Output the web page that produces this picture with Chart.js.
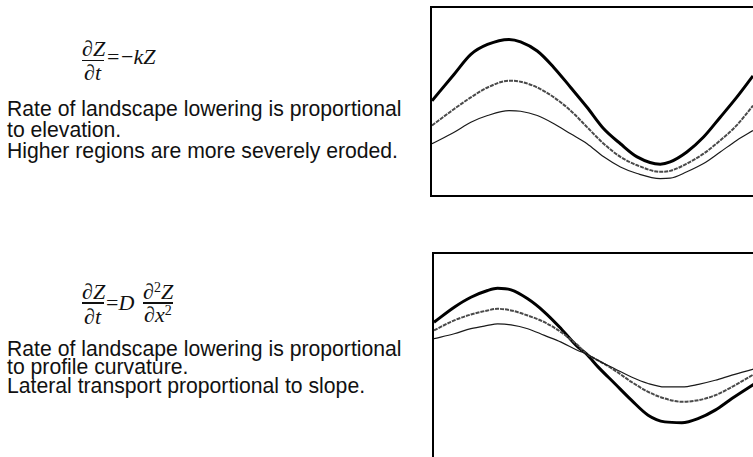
<!DOCTYPE html>
<html>
<head>
<meta charset="utf-8">
<script src="https://cdn.jsdelivr.net/npm/chart.js@4"></script>
<style>
  html, body { margin: 0; padding: 0; background: #fff; width: 753px; height: 457px; overflow: hidden; }
  #page { position: relative; width: 753px; height: 457px; overflow: hidden; }
  .txt { position: absolute; font-family: "Liberation Sans", Arial, sans-serif; font-size: 21.2px; color: #111; white-space: nowrap; }
  .m { position: absolute; font-family: "Liberation Serif", "Times New Roman", serif; font-size: 22px; color: #111; white-space: nowrap; line-height: 1; }
  .i { font-style: italic; }
  .sup { font-size: 14px; vertical-align: 7px; }
  .bar { position: absolute; height: 1.5px; background: #111; }
  .box { position: absolute; border-left: 2px solid #000; border-top: 2px solid #000; }
  .box canvas { display: block; }
</style>
</head>
<body>
<div id="page">
  <!-- Panel 1 equation: dZ/dt = -kZ -->
  <div class="m" style="left:82px; top:38px;">∂<span class="i">Z</span></div>
  <div class="bar" style="left:82px; top:59.5px; width:22px;"></div>
  <div class="m" style="left:84px; top:61.5px;">∂<span class="i">t</span></div>
  <div class="m" style="left:107px; top:45.5px;">=</div>
  <div class="m" style="left:121px; top:45.5px;">−<span class="i">kZ</span></div>
  <div class="txt" style="left:7px; top:97.5px; line-height:21px;">Rate of landscape lowering is proportional<br>to elevation.<br>Higher regions are more severely eroded.</div>

  <!-- Panel 2 equation: dZ/dt = D d2Z/dx2 -->
  <div class="m" style="left:82px; top:281px;">∂<span class="i">Z</span></div>
  <div class="bar" style="left:82px; top:302px; width:22px;"></div>
  <div class="m" style="left:84px; top:305.5px;">∂<span class="i">t</span></div>
  <div class="m" style="left:106px; top:291.5px;">=<span class="i">D</span></div>
  <div class="m" style="left:143px; top:281px;">∂<span class="sup">2</span><span class="i">Z</span></div>
  <div class="bar" style="left:143px; top:302px; width:30px;"></div>
  <div class="m" style="left:144px; top:304px;">∂<span class="i">x</span><span class="sup">2</span></div>
  <div class="txt" style="left:7px; top:339.5px; line-height:18.7px;">Rate of landscape lowering is proportional<br>to profile curvature.<br>Lateral transport proportional to slope.</div>

  <div class="box" style="left:430px; top:6px; width:323px; height:187px; border-bottom:2px solid #000;">
    <canvas id="c1" width="321" height="187"></canvas>
  </div>
  <div class="box" style="left:432px; top:252px; width:321px; height:210px;">
    <canvas id="c2" width="321" height="203"></canvas>
  </div>
</div>
<script>
// ---- Panel 1: dZ/dt = -kZ (distance along profile, elevation) ----
const distance1 = [0, 6.9, 12.1, 17.3, 24.0, 27.6, 32.8, 38.0, 43.2, 48.3, 53.5, 58.7, 63.9, 71.1, 74.2, 79.4, 84.6, 89.8, 94.9, 100];
const initial1  = [50.4, 64.6, 75.2, 80.5, 83.2, 81.9, 77.0, 68.1, 57.5, 46.9, 35.4, 27.4, 20.4, 16.5, 17.7, 23.0, 31.0, 41.6, 52.2, 63.7];
const middle1   = [37.2, 46.0, 52.2, 57.5, 61.1, 60.6, 57.5, 52.2, 45.1, 36.3, 27.4, 20.4, 15.9, 12.4, 12.9, 16.8, 22.1, 29.2, 37.2, 47.8];
const later1    = [27.4, 33.6, 38.9, 42.5, 45.1, 44.8, 42.5, 38.1, 32.7, 27.4, 20.4, 15.0, 11.5, 8.8, 9.0, 12.4, 16.8, 23.0, 29.2, 34.5];

// ---- Panel 2: dZ/dt = D d2Z/dx2 ----
const distance2 = [0, 6.3, 11.5, 16.7, 19.8, 24.0, 29.2, 34.4, 39.6, 44.8, 47.4, 51.1, 56.3, 61.5, 66.7, 71.9, 77.2, 82.4, 87.6, 92.8, 100];
const initial2  = [66.4, 73.8, 78.7, 82.0, 83.1, 82.3, 77.9, 71.4, 63.2, 54.2, 50.9, 44.4, 36.2, 28.0, 20.6, 17.3, 16.9, 19.0, 23.1, 28.8, 36.2];
const middle2   = [62.4, 67.3, 70.2, 72.2, 73.0, 72.2, 69.7, 66.4, 61.5, 55.0, 50.9, 47.6, 42.7, 37.0, 32.1, 28.8, 27.2, 28.0, 30.4, 34.5, 41.1];
const later2    = [58.3, 60.7, 63.2, 64.8, 65.6, 65.1, 63.2, 59.9, 56.6, 52.5, 50.9, 47.6, 43.5, 39.4, 36.2, 34.5, 34.5, 35.8, 37.8, 40.3, 43.5];

function pts(xs, ys) { return xs.map((x, i) => ({ x: x, y: ys[i] })); }

function makeChart(id, xs, a, b, c) {
  new Chart(document.getElementById(id), {
    type: 'line',
    data: {
      datasets: [
        { data: pts(xs, c), borderColor: '#1a1a1a', borderWidth: 1.2 },
        { data: pts(xs, b), borderColor: '#4a4a4a', borderWidth: 2, borderDash: [4, 1] },
        { data: pts(xs, a), borderColor: '#000', borderWidth: 3 }
      ]
    },
    options: {
      responsive: false,
      animation: false,
      layout: { padding: 0 },
      elements: { point: { radius: 0 }, line: { tension: 0.4, cubicInterpolationMode: 'monotone' } },
      plugins: { legend: { display: false }, tooltip: { enabled: false } },
      scales: {
        x: { type: 'linear', min: 0, max: 100, display: false },
        y: { type: 'linear', min: 0, max: 100, display: false }
      }
    }
  });
}
makeChart('c1', distance1, initial1, middle1, later1);
makeChart('c2', distance2, initial2, middle2, later2);
</script>
</body>
</html>
